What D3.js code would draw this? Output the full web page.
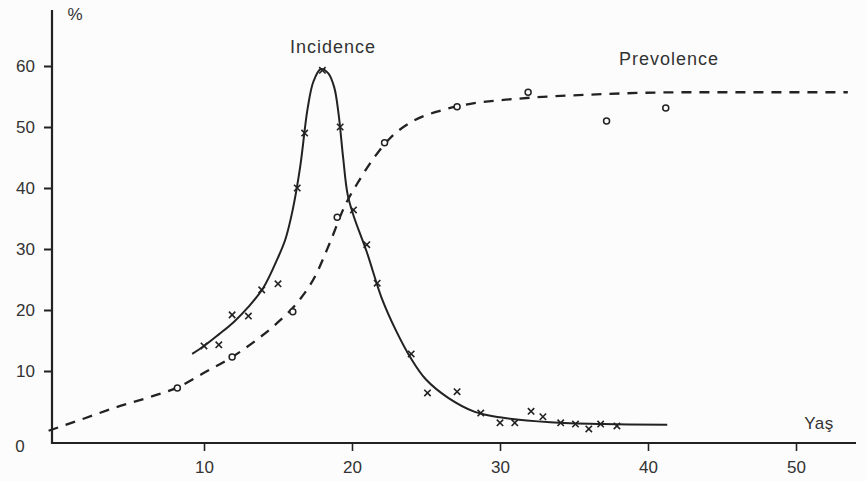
<!DOCTYPE html>
<html><head><meta charset="utf-8">
<script src="https://cdn.jsdelivr.net/npm/d3@7"></script>
<style>body{margin:0;background:#fcfcfc;}svg{display:block;}</style>
</head><body>
<svg id="chart" width="866" height="481"></svg>
<script>
// Data (age in years, %)
const xTicks = [10, 20, 30, 40, 50];
const yTicks = [10, 20, 30, 40, 50, 60];
const incidenceAge = [10.0, 11.0, 11.9, 13.0, 13.9, 15.0, 16.3, 16.8, 18.0, 19.2, 20.1, 21.0, 21.7, 24.0, 25.1, 27.1, 28.7, 30.0, 31.0, 32.1, 32.9, 34.1, 35.1, 36.0, 36.8, 37.9];
const incidenceVal = [14.1, 14.3, 19.2, 19.0, 23.3, 24.3, 40.0, 49.0, 59.3, 50.0, 36.4, 30.7, 24.4, 12.8, 6.4, 6.6, 3.1, 1.5, 1.5, 3.4, 2.5, 1.5, 1.3, 0.5, 1.3, 1.0];
const incidenceCurveAge = [9.2, 10, 11, 12, 13, 14, 15, 15.5, 16, 16.5, 17, 17.4, 17.9, 18.4, 18.8, 19.1, 19.4, 19.7, 20.1, 21, 22, 23, 24, 25, 26.5, 28.3, 30, 33.4, 37, 41.3];
const incidenceCurveVal = [12.8, 14.1, 16.0, 18.0, 20.5, 23.6, 28.6, 31.6, 36.5, 43.5, 53, 57.5, 59.5, 58.8, 56.5, 52, 45, 39, 35.5, 29.5, 22, 16.5, 12, 8.6, 5.6, 3.3, 2.4, 1.6, 1.3, 1.2];
const prevalenceAge = [8.2, 11.9, 16.0, 19.0, 22.2, 27.1, 31.9, 37.2, 41.2];
const prevalenceVal = [7.2, 12.3, 19.7, 35.2, 47.4, 53.3, 55.7, 51.0, 53.1];
const prevalenceCurveAge = [-0.5, 2, 4, 6.3, 8.2, 10, 11.9, 13.5, 15, 16.5, 17.5, 18.5, 19.5, 20.5, 21.5, 22.5, 24, 26, 28, 31, 36, 43, 53.5];
const prevalenceCurveVal = [0.2, 2.3, 4.0, 5.7, 7.3, 9.7, 12.3, 15.0, 18.0, 21.8, 25.5, 31.0, 37.0, 41.3, 45.0, 48.0, 50.8, 52.7, 53.8, 54.6, 55.3, 55.7, 55.7];

const svg = d3.select("#chart");
const ink = "#222", textCol = "#333", bg = "#fcfcfc";
const font = "'Liberation Sans', Arial, sans-serif";

const x = d3.scaleLinear().domain([0, 50]).range([56, 796]);
const y = d3.scaleLinear().domain([0, 60]).range([432, 66]);
const baseY = 443;

// x axis line + ticks
const xAxis = d3.axisBottom(x).tickValues(xTicks).tickSize(8).tickFormat(d3.format("d"));
const gx = svg.append("g").attr("transform", `translate(0,${baseY})`).call(xAxis);
gx.select(".domain").remove();
gx.append("line").attr("x1", 51).attr("x2", 856).attr("y1", 0).attr("y2", 0).attr("stroke", ink).attr("stroke-width", 2.2);
gx.selectAll(".tick line").attr("stroke", ink).attr("stroke-width", 1.6);
gx.selectAll(".tick text").attr("fill", textCol).attr("y", 24).attr("dy", "0.35em")
  .style("font-family", font).style("font-size", "17px");

// y axis
const yAxis = d3.axisLeft(y).tickValues(yTicks).tickSize(8).tickPadding(9).tickFormat(d3.format("d"));
const gy = svg.append("g").attr("transform", "translate(52,0)").call(yAxis);
gy.select(".domain").remove();
gy.append("line").attr("x1", 0).attr("x2", 0).attr("y1", 10).attr("y2", baseY + 1).attr("stroke", ink).attr("stroke-width", 2.2);
gy.selectAll(".tick line").attr("stroke", ink).attr("stroke-width", 2);
gy.selectAll(".tick text").attr("fill", textCol).style("font-family", font).style("font-size", "17px");
svg.append("text").attr("x", 20).attr("y", 446).attr("dy", "0.35em").attr("text-anchor", "middle")
  .attr("fill", textCol).style("font-family", font).style("font-size", "17px").text("0");

svg.append("text").attr("x", 75).attr("y", 14).attr("dy", "0.35em").attr("text-anchor", "middle")
  .attr("fill", textCol).style("font-family", font).style("font-size", "17px").text("%");

const lineI = d3.line().x(d => x(d[0])).y(d => y(d[1])).curve(d3.curveCatmullRom.alpha(0.5));
const lineP = d3.line().x(d => x(d[0])).y(d => y(d[1])).curve(d3.curveMonotoneX);

// Incidence curve (solid)
svg.append("path").datum(d3.zip(incidenceCurveAge, incidenceCurveVal)).attr("d", lineI)
  .attr("fill", "none").attr("stroke", ink).attr("stroke-width", 2);

// Prevalence curve (dashed)
svg.append("path").datum(d3.zip(prevalenceCurveAge, prevalenceCurveVal)).attr("d", lineP)
  .attr("fill", "none").attr("stroke", ink).attr("stroke-width", 2.3).attr("stroke-dasharray", "10,8");

// Incidence markers (x)
const s = 3.2;
const gi = svg.append("g");
d3.zip(incidenceAge, incidenceVal).forEach(d => {
  const cx = x(d[0]), cy = y(d[1]);
  gi.append("path").attr("d", `M${cx - s},${cy - s}L${cx + s},${cy + s}M${cx - s},${cy + s}L${cx + s},${cy - s}`)
    .attr("stroke", ink).attr("stroke-width", 1.6).attr("fill", "none");
});

// Prevalence markers (o)
svg.append("g").selectAll("circle").data(d3.zip(prevalenceAge, prevalenceVal)).join("circle")
  .attr("cx", d => x(d[0])).attr("cy", d => y(d[1])).attr("r", 3)
  .attr("fill", bg).attr("stroke", ink).attr("stroke-width", 1.5);

// Labels
const lab = (t, lx, ly, anchor, size, ls) => svg.append("text").attr("x", lx).attr("y", ly).attr("text-anchor", anchor)
  .attr("fill", textCol).style("font-family", font).style("font-size", size + "px").style("letter-spacing", ls + "px").text(t);
lab("Incidence", 333, 53, "middle", 18, 1);
lab("Prevolence", 669, 65, "middle", 18, 1);
lab("Yaş", 819, 429, "middle", 17, 0.5);
</script>
</body></html>
